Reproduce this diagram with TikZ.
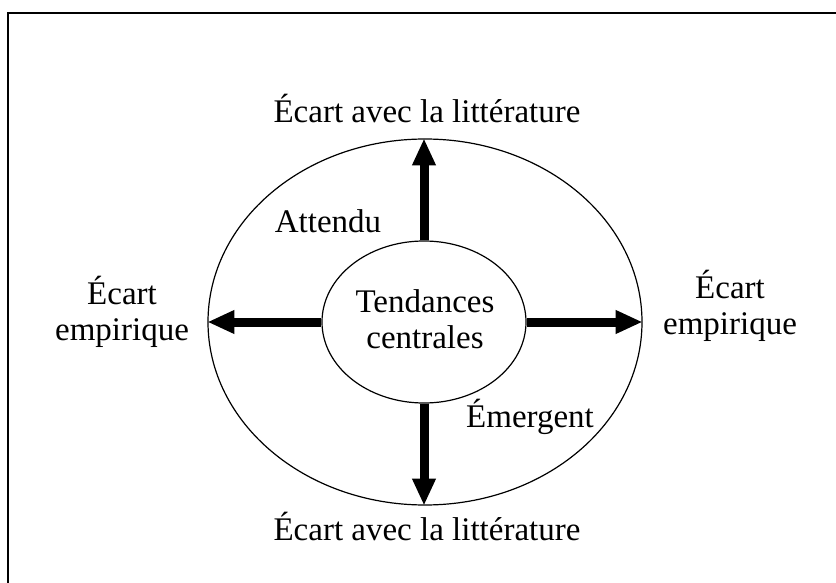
\documentclass[tikz,border=0pt]{standalone}
\usepackage{fontspec}
\setmainfont{Liberation Serif}
\usetikzlibrary{shapes.geometric,arrows.meta}
\begin{document}
\begin{tikzpicture}[x=1pt,y=-1pt,
  lbl/.style={font=\fontsize{33}{36}\selectfont, inner sep=0pt, align=center},
  bigarrow/.style={line width=9pt, -{Triangle[length=27pt,width=22pt]}},
  ell/.style={ellipse, draw, line width=1.2pt, inner sep=0pt}]
\useasboundingbox (0,0) rectangle (836,583);
\draw[line width=2pt] (836,13) -- (8,13) -- (8,583);
\node[ell, minimum width=434pt, minimum height=366pt] (outer) at (425,322) {};
\node[ell, minimum width=204pt, minimum height=162pt] (inner) at (424,322) {};
\node[lbl] (tc) at (425,319) {Tendances\\centrales};
\node[lbl, anchor=base] (top) at (427,123) {Écart avec la littérature};
\node[lbl, anchor=base] (bot) at (427,540) {Écart avec la littérature};
\node[lbl] (left) at (122,312) {Écart\\empirique};
\node[lbl] (right) at (730,306) {Écart\\empirique};
\node[lbl, anchor=base] (att) at (328,233) {Attendu};
\node[lbl, anchor=base] (emg) at (530,427) {Émergent};
\draw[bigarrow] (inner.north) -- (inner.north |- outer.north);
\draw[bigarrow] (inner.south) -- (inner.south |- outer.south);
\draw[bigarrow] (inner.west) -- (outer.west);
\draw[bigarrow] (inner.east) -- (outer.east);
\end{tikzpicture}
\end{document}
